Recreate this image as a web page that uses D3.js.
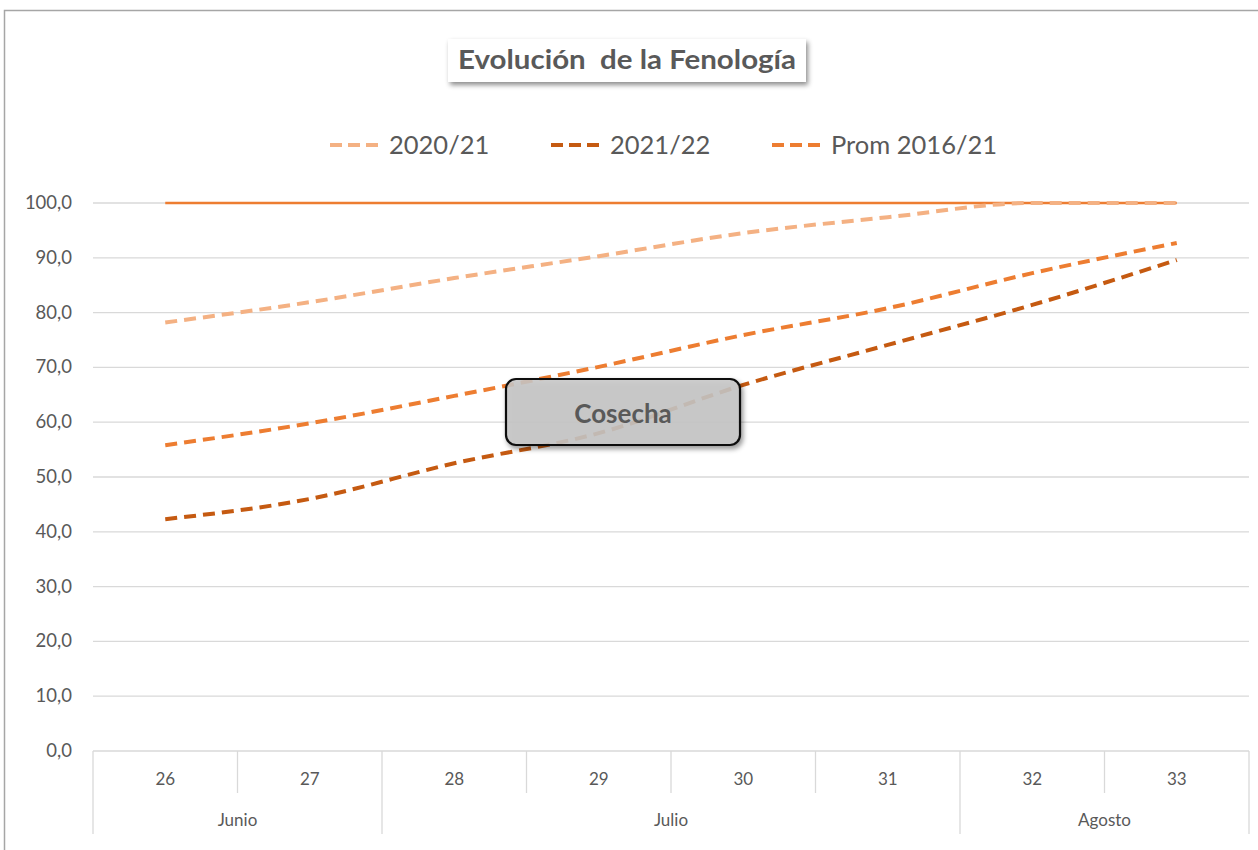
<!DOCTYPE html>
<html>
<head>
<meta charset="utf-8">
<script src="https://cdn.jsdelivr.net/npm/d3@7"></script>
<style>
  body { margin: 0; background: #fff; }
  text { font-family: Lato, "Open Sans", sans-serif; fill: #595959; }
</style>
</head>
<body>
<div id="chart"></div>
<script>
// evolucion de la fenologia
var w = 1258, h = 850;

var semanas = ["26", "27", "28", "29", "30", "31", "32", "33"];
var meses = [
  {mes: "Junio", desde: 0, hasta: 1},
  {mes: "Julio", desde: 2, hasta: 5},
  {mes: "Agosto", desde: 6, hasta: 7}
];
var s2020 = [78.2, 81.9, 86.3, 90.3, 94.5, 97.4, 100, 100];
var s2021 = [42.3, 46.0, 52.5, 58.0, 66.8, 74.1, 81.4, 89.6];
var prom = [55.8, 59.8, 64.8, 70.1, 75.9, 80.8, 87.2, 92.7];
var tope = [100, 100, 100, 100, 100, 100, 100, 100];
var yTicks = [0, 10, 20, 30, 40, 50, 60, 70, 80, 90, 100];

var series = [
  {name: "2020/21", values: s2020, color: "#F4B183"},
  {name: "2021/22", values: s2021, color: "#C55A11"},
  {name: "Prom 2016/21", values: prom, color: "#ED7D31"}
];

var svg = d3.select("#chart").append("svg")
  .attr("width", w)
  .attr("height", h);

var defs = svg.append("defs");
var sh = defs.append("filter").attr("id", "sombra")
  .attr("x", "-10%").attr("y", "-20%").attr("width", "125%").attr("height", "160%");
sh.append("feDropShadow").attr("dx", 2).attr("dy", 3).attr("stdDeviation", 2.5)
  .attr("flood-color", "#000").attr("flood-opacity", 0.45);

// marco
svg.append("rect")
  .attr("x", 4.5).attr("y", 10.5)
  .attr("width", w + 10).attr("height", h + 10)
  .attr("fill", "#fff").attr("stroke", "#A6A6A6").attr("stroke-width", 1.5);

var pLeft = 93, pRight = 1249, pTop = 203, pBottom = 751;

var x = d3.scaleBand().domain(semanas).range([pLeft, pRight]);
var y = d3.scaleLinear().domain([0, 100]).range([pBottom, pTop]);

// grid
svg.selectAll(".grid")
  .data(yTicks.slice(1))
  .enter()
  .append("line")
  .attr("x1", pLeft).attr("x2", pRight)
  .attr("y1", function(d) { return y(d); })
  .attr("y2", function(d) { return y(d); })
  .attr("stroke", "#D9D9D9").attr("stroke-width", 1.3);

// eje y
svg.selectAll(".ylab")
  .data(yTicks)
  .enter()
  .append("text")
  .attr("x", 72)
  .attr("y", function(d) { return y(d) + 6; })
  .attr("text-anchor", "end")
  .style("font-size", "18.5px")
  .text(function(d) { return d3.format(".1f")(d).replace(".", ","); });

// eje x
svg.append("line")
  .attr("x1", pLeft).attr("x2", pRight)
  .attr("y1", pBottom).attr("y2", pBottom)
  .attr("stroke", "#D9D9D9").attr("stroke-width", 1.3);

var cortes = [];
semanas.forEach(function(s, i) {
  if (i > 0) cortes.push({x: x(s), largo: meses.some(function(m) { return m.desde == i; })});
});
cortes.push({x: pLeft, largo: true});
cortes.push({x: pRight, largo: true});

svg.selectAll(".corte")
  .data(cortes)
  .enter()
  .append("line")
  .attr("x1", function(d) { return d.x; })
  .attr("x2", function(d) { return d.x; })
  .attr("y1", pBottom)
  .attr("y2", function(d) { return d.largo ? 834 : 793; })
  .attr("stroke", "#D9D9D9").attr("stroke-width", 1.3);

svg.selectAll(".xlab")
  .data(semanas)
  .enter()
  .append("text")
  .attr("x", function(d) { return x(d) + x.bandwidth() / 2; })
  .attr("y", 785)
  .attr("text-anchor", "middle")
  .style("font-size", "17px")
  .text(function(d) { return d; });

svg.selectAll(".mes")
  .data(meses)
  .enter()
  .append("text")
  .attr("x", function(d) { return (x(semanas[d.desde]) + x(semanas[d.hasta]) + x.bandwidth()) / 2; })
  .attr("y", 826)
  .attr("text-anchor", "middle")
  .style("font-size", "17px")
  .text(function(d) { return d.mes; });

var cx = function(d, i) { return x(semanas[i]) + x.bandwidth() / 2; };
var linea = d3.line()
  .x(cx)
  .y(function(d) { return y(d); })
  .curve(d3.curveMonotoneX);

// linea solida en 100
svg.append("path")
  .attr("d", linea(tope))
  .attr("fill", "none")
  .attr("stroke", "#ED7D31")
  .attr("stroke-width", 2.5);

svg.selectAll(".serie")
  .data(series)
  .enter()
  .append("path")
  .attr("d", function(d) { return linea(d.values); })
  .attr("fill", "none")
  .attr("stroke", function(d) { return d.color; })
  .attr("stroke-width", 4)
  .attr("stroke-dasharray", "12,7");

// cuadro cosecha
var caja = svg.append("g");
caja.append("rect")
  .attr("x", 506).attr("y", 379)
  .attr("width", 234).attr("height", 66)
  .attr("rx", 10).attr("ry", 10)
  .attr("fill", "#C8C8C8").attr("fill-opacity", 0.85)
  .attr("stroke", "#111").attr("stroke-width", 2.2)
  .attr("filter", "url(#sombra)");
caja.append("text")
  .attr("x", 623).attr("y", 423)
  .attr("text-anchor", "middle")
  .style("font-size", "26px").style("font-weight", "bold")
  .text("Cosecha");

// titulo
svg.append("rect")
  .attr("x", 448).attr("y", 39)
  .attr("width", 358).attr("height", 43)
  .attr("fill", "#fff")
  .attr("filter", "url(#sombra)");
svg.append("text")
  .attr("x", 458).attr("y", 69)
  .style("font-size", "26px").style("font-weight", "bold")
  .style("white-space", "pre")
  .attr("textLength", 338)
  .attr("lengthAdjust", "spacingAndGlyphs")
  .text("Evolución  de la Fenología");

// leyenda
var legX = [330, 551, 772];
var leg = svg.selectAll(".leg")
  .data(series)
  .enter()
  .append("g")
  .attr("transform", function(d, i) { return "translate(" + legX[i] + ",145)"; });
leg.append("line")
  .attr("x1", 0).attr("x2", 48)
  .attr("y1", 0).attr("y2", 0)
  .attr("stroke", function(d) { return d.color; })
  .attr("stroke-width", 4)
  .attr("stroke-dasharray", "12,6");
leg.append("text")
  .attr("x", 59).attr("y", 9)
  .style("font-size", "25.5px")
  .text(function(d) { return d.name; });
</script>
</body>
</html>
